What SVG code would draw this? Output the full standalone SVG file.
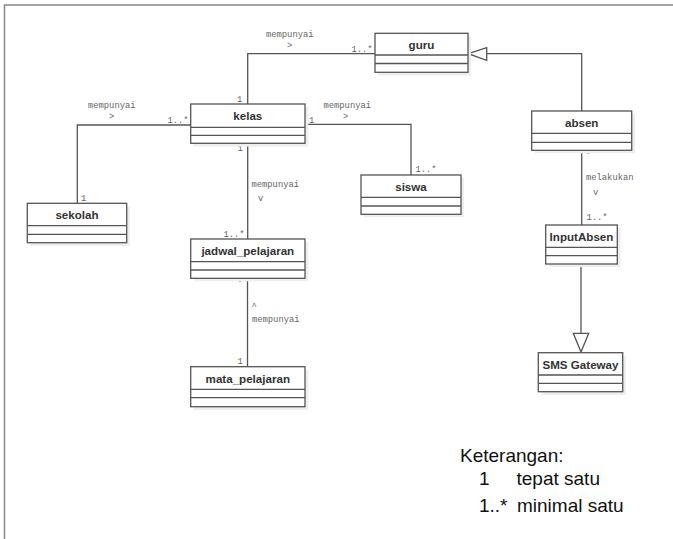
<svg xmlns="http://www.w3.org/2000/svg" width="673" height="539" viewBox="0 0 673 539">
<style>
.frame{fill:none;stroke:#888;stroke-width:1.5}
.box{fill:#fff;stroke:#555;stroke-width:1.3}
.sh{fill:#eee}
.div{stroke:#555;stroke-width:1.3}
.name{font-family:"Liberation Sans",Arial,sans-serif;font-weight:bold;font-size:11.6px;fill:#333;text-anchor:middle}
.con{fill:none;stroke:#555;stroke-width:1.3}
.lbl{font-family:"Liberation Mono","DejaVu Sans Mono",monospace;font-size:8.8px;fill:#666}
.tri{fill:#fff;stroke:#555;stroke-width:1.3}
.ket{font-family:"Liberation Sans",Arial,sans-serif;font-size:19px;fill:#111}
</style>
<rect width="673" height="539" fill="#fff"/>
<path class="frame" d="M4.5,539 V5 H673"/>

<g id="connectors">
  <path class="con" d="M375,53.7 H247.7 V104"/>
  <path class="con" d="M190.7,125 H77.3 V203.3"/>
  <path class="con" d="M305,124.3 H411 V175"/>
  <path class="con" d="M247.7,143.3 V239"/>
  <path class="con" d="M247.5,278.3 V366.7"/>
  <path class="con" d="M486.7,53.7 H581.7 V111"/>
  <path class="con" d="M581.7,150.3 V225"/>
  <path class="con" d="M581,264 V333.3"/>
  <polygon class="tri" points="468.3,53.7 486.7,47.7 486.7,60.3"/>
  <polygon class="tri" points="573.3,333.3 588.7,333.3 581,352"/>
  <text class="lbl" x="266" y="37">mempunyai</text>
  <text class="lbl" x="287" y="48">&gt;</text>
  <text class="lbl" x="351.5" y="52">1..*</text>
  <text class="lbl" x="237" y="101.5">1</text>
  <text class="lbl" x="88" y="108">mempunyai</text>
  <text class="lbl" x="109" y="119">&gt;</text>
  <text class="lbl" x="167.5" y="122.5">1..*</text>
  <text class="lbl" x="81" y="201">1</text>
  <text class="lbl" x="323.5" y="108">mempunyai</text>
  <text class="lbl" x="343" y="119">&gt;</text>
  <text class="lbl" x="309" y="122.5">1</text>
  <text class="lbl" x="415.5" y="172">1..*</text>
  <text class="lbl" x="237.5" y="151">1</text>
  <text class="lbl" x="251.5" y="187">mempunyai</text>
  <text class="lbl" x="258" y="201">v</text>
  <text class="lbl" x="223.5" y="237">1..*</text>
  <text class="lbl" x="237.5" y="286">*</text>
  <text class="lbl" x="251.5" y="309">^</text>
  <text class="lbl" x="252" y="322">mempunyai</text>
  <text class="lbl" x="237.5" y="364">1</text>
  <text class="lbl" x="585.5" y="158">*</text>
  <text class="lbl" x="586" y="180">melakukan</text>
  <text class="lbl" x="593" y="195">v</text>
  <text class="lbl" x="586.5" y="219.5">1..*</text>
</g>

<g id="guru">
  <rect class="sh" x="378" y="36.5" width="93" height="39"/>
  <rect class="box" x="375" y="33.3" width="93" height="39"/>
  <line class="div" x1="375" y1="55" x2="468" y2="55"/>
  <line class="div" x1="375" y1="63.5" x2="468" y2="63.5"/>
  <text class="name" x="421.5" y="48.5">guru</text>
</g>
<g id="kelas">
  <rect class="sh" x="194" y="107" width="114.3" height="39.5"/>
  <rect class="box" x="190.7" y="104" width="114.3" height="39.3"/>
  <line class="div" x1="190.7" y1="127.3" x2="305" y2="127.3"/>
  <line class="div" x1="190.7" y1="135.3" x2="305" y2="135.3"/>
  <text class="name" x="247.8" y="120">kelas</text>
</g>
<g id="sekolah">
  <rect class="sh" x="30.5" y="206.5" width="99.4" height="39.4"/>
  <rect class="box" x="27.3" y="203.3" width="99.4" height="39.4"/>
  <line class="div" x1="27.3" y1="225.7" x2="126.7" y2="225.7"/>
  <line class="div" x1="27.3" y1="234.3" x2="126.7" y2="234.3"/>
  <text class="name" x="77" y="219">sekolah</text>
</g>
<g id="siswa">
  <rect class="sh" x="364" y="178" width="100" height="39.3"/>
  <rect class="box" x="361" y="175" width="100" height="39.3"/>
  <line class="div" x1="361" y1="197.3" x2="461" y2="197.3"/>
  <line class="div" x1="361" y1="206" x2="461" y2="206"/>
  <text class="name" x="411" y="191">siswa</text>
</g>
<g id="jadwal_pelajaran">
  <rect class="sh" x="194" y="242" width="114.3" height="39.3"/>
  <rect class="box" x="190.7" y="239" width="114.3" height="39.3"/>
  <line class="div" x1="190.7" y1="261.7" x2="305" y2="261.7"/>
  <line class="div" x1="190.7" y1="270" x2="305" y2="270"/>
  <text class="name" x="247.8" y="255">jadwal_pelajaran</text>
</g>
<g id="mata_pelajaran">
  <rect class="sh" x="194" y="370" width="114.3" height="40"/>
  <rect class="box" x="190.7" y="366.7" width="114.3" height="40"/>
  <line class="div" x1="190.7" y1="389.3" x2="305" y2="389.3"/>
  <line class="div" x1="190.7" y1="397.7" x2="305" y2="397.7"/>
  <text class="name" x="247.8" y="382.5">mata_pelajaran</text>
</g>
<g id="absen">
  <rect class="sh" x="535" y="114" width="100" height="39.3"/>
  <rect class="box" x="531.7" y="111" width="100" height="39.3"/>
  <line class="div" x1="531.7" y1="133.3" x2="631.7" y2="133.3"/>
  <line class="div" x1="531.7" y1="142.3" x2="631.7" y2="142.3"/>
  <text class="name" x="581.7" y="127">absen</text>
</g>
<g id="InputAbsen">
  <rect class="sh" x="549" y="228" width="71.6" height="39"/>
  <rect class="box" x="545.7" y="225" width="71.6" height="39"/>
  <line class="div" x1="545.7" y1="247.3" x2="617.3" y2="247.3"/>
  <line class="div" x1="545.7" y1="255.7" x2="617.3" y2="255.7"/>
  <text class="name" x="581.5" y="240.5">InputAbsen</text>
</g>
<g id="SMS_Gateway">
  <rect class="sh" x="541.5" y="356" width="84.4" height="39"/>
  <rect class="box" x="538.3" y="352.7" width="84.4" height="39"/>
  <line class="div" x1="538.3" y1="375" x2="622.7" y2="375"/>
  <line class="div" x1="538.3" y1="383.3" x2="622.7" y2="383.3"/>
  <text class="name" x="580.5" y="368.5">SMS Gateway</text>
</g>

<g id="keterangan">
  <text class="ket" x="460" y="461.5">Keterangan:</text>
  <text class="ket" x="479" y="485">1</text>
  <text class="ket" x="516.5" y="485">tepat satu</text>
  <text class="ket" x="479" y="511.5">1..*</text>
  <text class="ket" x="517" y="511.5">minimal satu</text>
</g>
</svg>
